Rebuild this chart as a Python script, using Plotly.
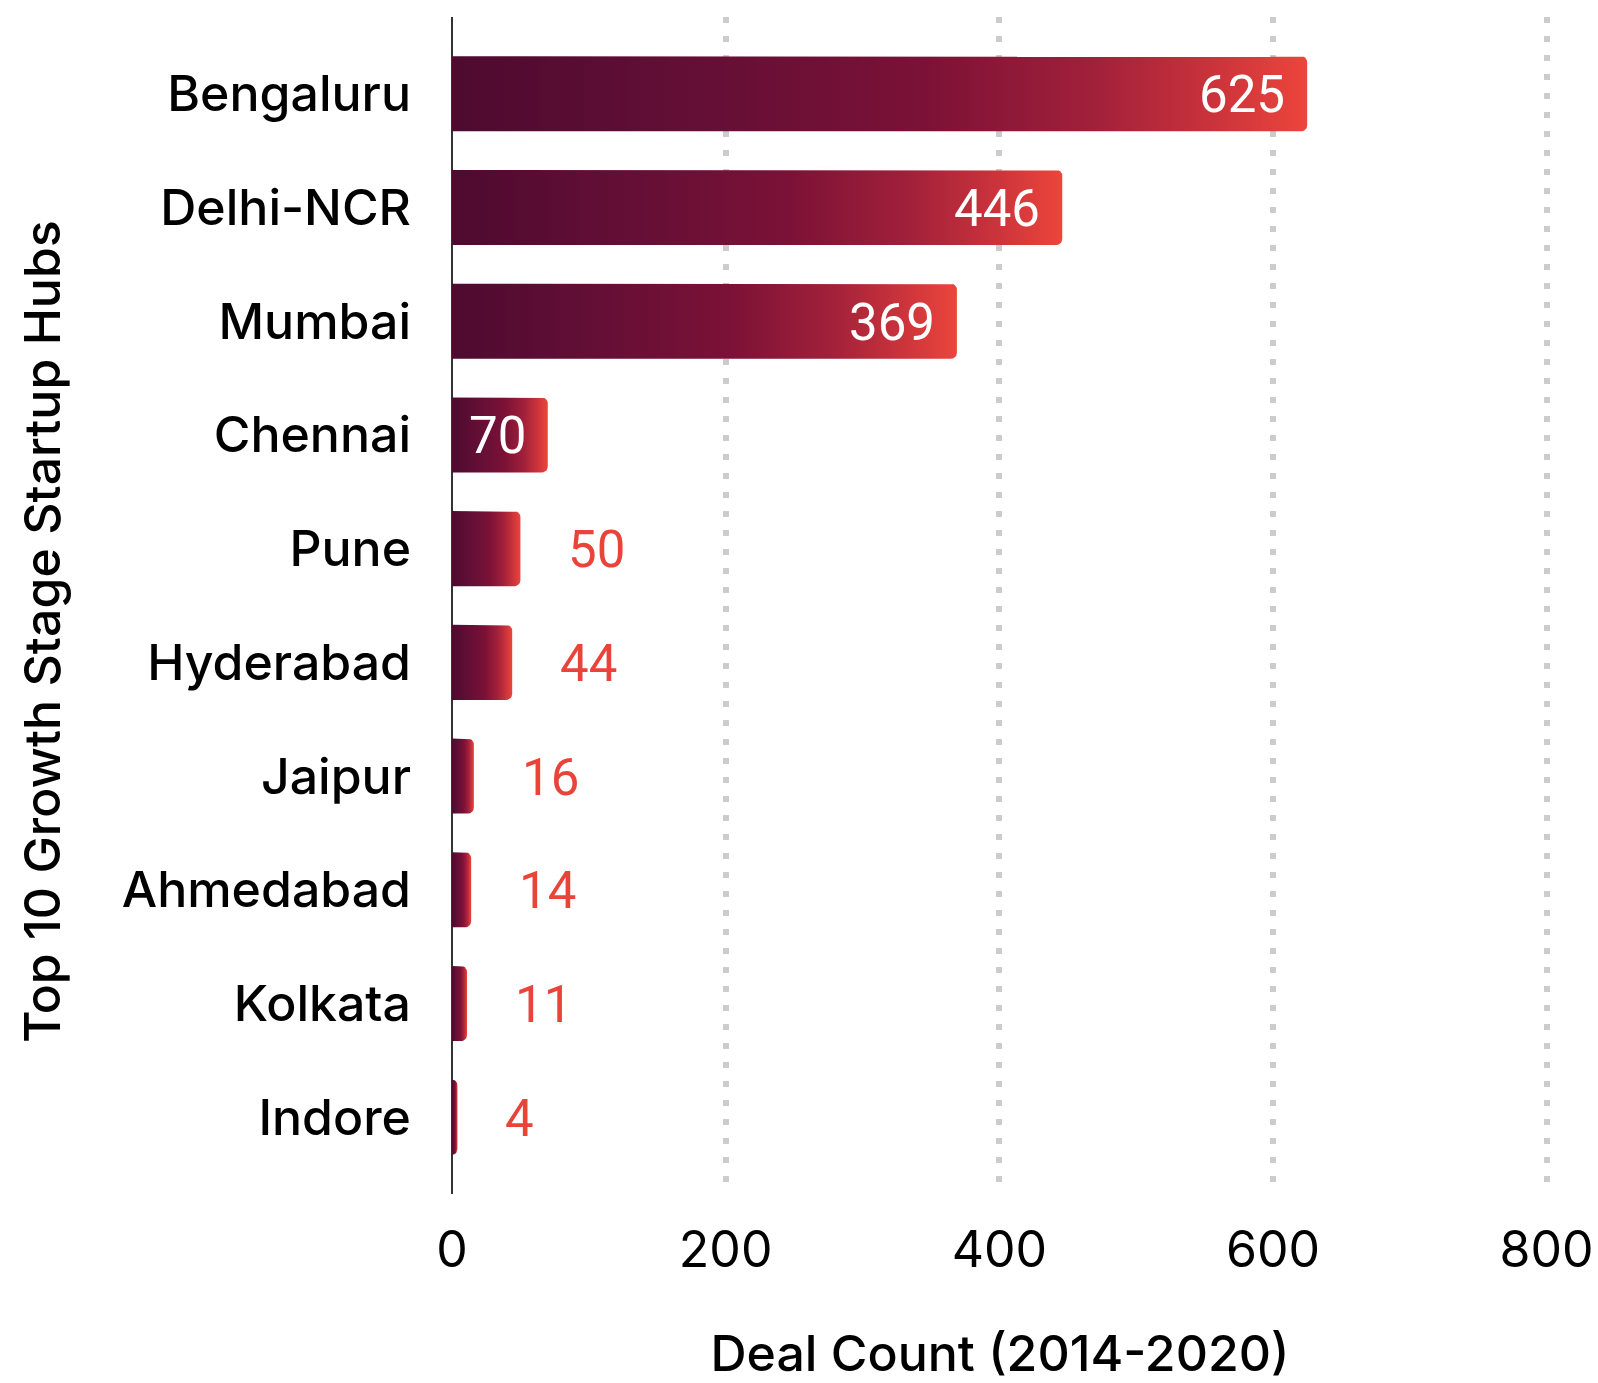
import plotly.graph_objects as go
import numpy as np

cities = ["Bengaluru", "Delhi-NCR", "Mumbai", "Chennai", "Pune",
          "Hyderabad", "Jaipur", "Ahmedabad", "Kolkata", "Indore"]
deals = [625, 446, 369, 70, 50, 44, 16, 14, 11, 4]
x_ticks = [0, 200, 400, 600, 800]

X_RANGE = [0, 801]
Y_RANGE = [9.675, -0.675]
W, H = 1598, 1383
M = dict(l=452, r=50, t=17, b=189)
BAR_W = 0.66
R_PX = 6

px_per_x = (W - M["l"] - M["r"]) / (X_RANGE[1] - X_RANGE[0])
px_per_y = (H - M["t"] - M["b"]) / abs(Y_RANGE[0] - Y_RANGE[1])

grad = [[0, "#4e0a2f"], [0.3, "#650f36"], [0.55, "#7b1136"],
        [0.75, "#a1203a"], [0.87, "#c4303b"], [1, "#ec453b"]]

fig = go.Figure()

for i, v in enumerate(deals):
    rx = min(R_PX / px_per_x, v * 0.9)
    ry = R_PX / px_per_y
    y0, y1 = i - BAR_W / 2, i + BAR_W / 2
    xs, ys = [0, v - rx], [y0, y0]
    t = np.linspace(-np.pi / 2, 0, 8)
    xs += list(v - rx + rx * np.cos(t)); ys += list(y0 + ry + ry * np.sin(t))
    t = np.linspace(0, np.pi / 2, 8)
    xs += list(v - rx + rx * np.cos(t)); ys += list(y1 - ry + ry * np.sin(t))
    xs += [v - rx, 0, 0]; ys += [y1, y1, y0]
    fig.add_trace(go.Scatter(
        x=xs, y=ys, mode="lines", fill="toself",
        line=dict(width=0, color="rgba(0,0,0,0)"),
        fillgradient=dict(type="horizontal", colorscale=grad),
        hoverinfo="skip", showlegend=False))

for i, v in enumerate(deals):
    inside = v >= 60
    fig.add_annotation(
        x=v, y=i, text=str(v), showarrow=False,
        xanchor="right" if inside else "left",
        xshift=-20 if inside else 46, yshift=-1,
        font=dict(family="Roboto", size=51,
                  color="white" if inside else "#e8443a"))

fig.add_annotation(
    x=-0.374, y=0.4775, xref="paper", yref="paper",
    xanchor="center", yanchor="middle",
    text="Top 10 Growth Stage Startup Hubs", textangle=-90, showarrow=False,
    font=dict(family="Inter", size=50, color="#000", weight=500))

fig.update_layout(
    width=W, height=H, margin=M,
    plot_bgcolor="white", paper_bgcolor="white",
    xaxis=dict(range=X_RANGE, tickvals=x_ticks, showgrid=True, automargin=False,
               gridcolor="#cccccc", gridwidth=6, griddash="6px,13px",
               zeroline=True, zerolinecolor="#333333", zerolinewidth=2,
               showline=False, ticks="", ticklabelstandoff=22,
               tickfont=dict(family="Inter", size=50, color="#000"),
               title=dict(text="Deal Count (2014-2020)", standoff=58,
                          font=dict(family="Inter", size=50, color="#000", weight=500))),
    yaxis=dict(range=Y_RANGE, tickvals=list(range(len(cities))), ticktext=cities,
               showgrid=False, zeroline=False, showline=False, ticks="", automargin=False,
               ticklabelstandoff=40,
               tickfont=dict(family="Inter", size=50, color="#000", weight=500)),
)

fig.write_html("out.html")
